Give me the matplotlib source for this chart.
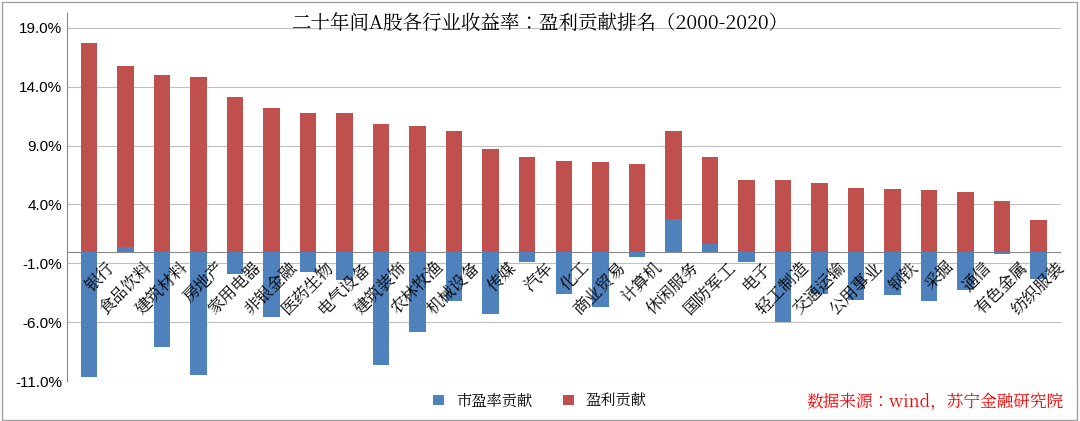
import matplotlib
matplotlib.use("Agg")
import matplotlib.pyplot as plt
from matplotlib import font_manager as fm
import numpy as np
from matplotlib.patches import Rectangle

categories = ["银行","食品饮料","建筑材料","房地产","家用电器","非银金融","医药生物","电气设备","建筑装饰",
              "农林牧渔","机械设备","传媒","汽车","化工","商业贸易","计算机","休闲服务","国防军工","电子",
              "轻工制造","交通运输","公用事业","钢铁","采掘","通信","有色金属","纺织服装"]
pe_contrib = [-10.7,0.4,-8.1,-10.5,-1.9,-5.6,-1.7,-2.4,-9.6,-6.8,-4.2,-5.3,-0.9,-3.6,-4.7,-0.5,2.8,0.6,-0.9,
              -6.0,-3.6,-4.1,-3.7,-4.2,-3.3,-0.2,-2.3]
profit_contrib = [17.7,15.4,15.0,14.8,13.1,12.2,11.8,11.8,10.8,10.7,10.2,8.7,8.0,7.7,7.6,7.4,7.4,7.4,6.1,
                  6.1,5.8,5.4,5.3,5.2,5.1,4.3,2.7]
yticks = [-11,-6,-1,4,9,14,19]

cjk_file = None
for f in fm.findSystemFonts():
    if "CJK" in f and ("Regular" in f or "CJK-" in f or "CJK" in f.split("/")[-1]):
        cjk_file = f
        if "Regular" in f:
            break
def cjk(size, **kw):
    if cjk_file:
        return fm.FontProperties(fname=cjk_file, size=size, **kw)
    return fm.FontProperties(family="Noto Sans CJK SC", size=size, **kw)

blue, red = "#4F81BD", "#C0504D"
fig = plt.figure(figsize=(10.8,4.21), dpi=100)
ax = fig.add_axes([0.062, 0.095, 0.92, 0.875])
x = np.arange(len(categories))
bottoms = [max(p,0) for p in pe_contrib]
ax.bar(x, pe_contrib, width=0.45, color=blue, label="市盈率贡献", zorder=3)
ax.bar(x, profit_contrib, width=0.45, bottom=bottoms, color=red, label="盈利贡献", zorder=3)
ax.set_xlim(-0.6, len(categories)-0.4)
ax.set_ylim(-11, 20.3)
ax.set_yticks(yticks)
ax.set_yticklabels([f"{v:.1f}%" for v in yticks], fontsize=11, family="Liberation Sans")
ax.yaxis.grid(True, color="#BFBFBF", lw=0.8, zorder=0)
ax.set_xticks([])
for s in ["top","right","bottom"]:
    ax.spines[s].set_visible(False)
ax.spines["left"].set_color("#888888")
ax.tick_params(axis="y", length=0)
ax.axhline(0, color="#888888", lw=0.8, zorder=2)
for i, c in enumerate(categories):
    ax.text(i+0.8, -0.6, c, rotation=45, ha="right", va="top", fontproperties=cjk(12), zorder=5)
fig.text(0.5, 0.93, "二十年间A股各行业收益率：盈利贡献排名（2000-2020）", ha="center",
         fontproperties=cjk(14, weight="bold"))
fig.legend(loc="lower center", bbox_to_anchor=(0.5, -0.005), ncol=2, frameon=False,
           prop=cjk(11), handlelength=0.7, handleheight=0.7)
fig.text(0.985, 0.035, "数据来源：wind，苏宁金融研究院", ha="right", color="#FF0000",
         fontproperties=cjk(12, style="italic"))
fig.patches.append(Rectangle((0.002,0.003),0.995,0.993, transform=fig.transFigure, fill=False,
                             edgecolor="#A0A0A0", lw=1))
fig.savefig("out.png", dpi=100)
